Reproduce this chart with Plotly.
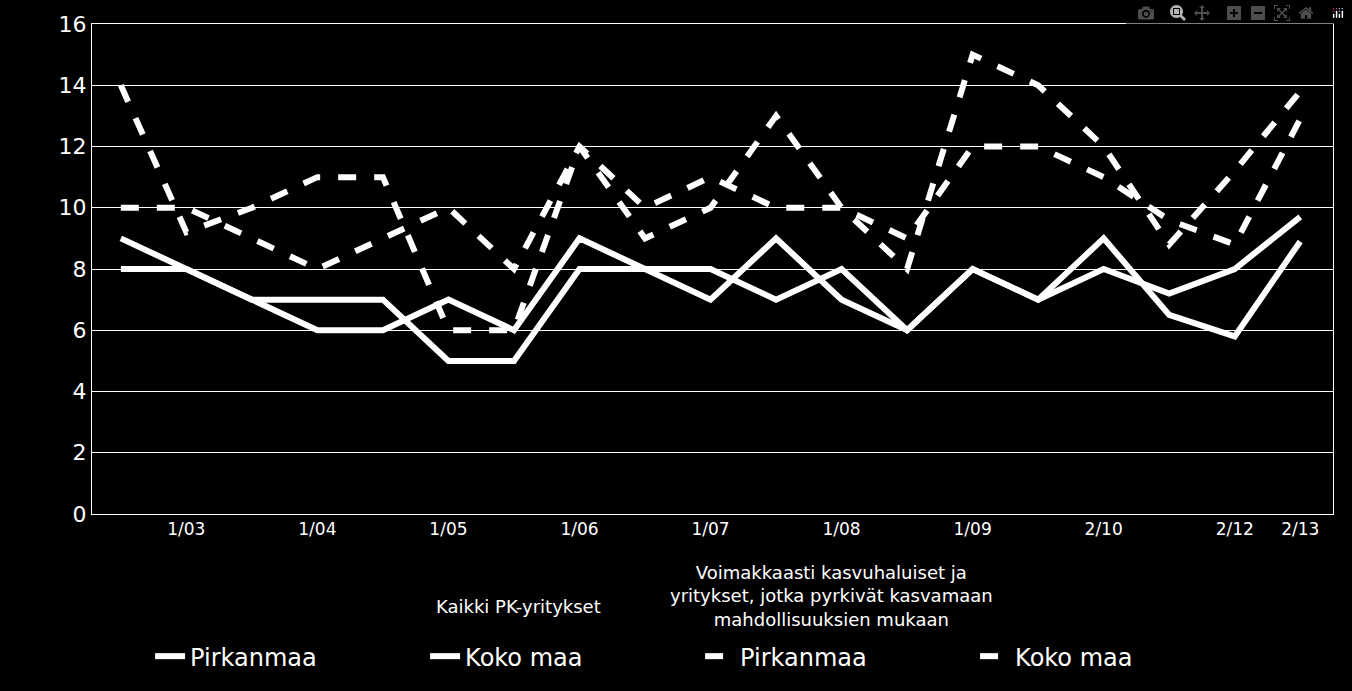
import plotly.graph_objects as go

idx = list(range(19))
pirkanmaa_all = [9, 8, 7, 6, 6, 7, 6, 9, 8, 7, 9, 7, 6, 8, 7, 9, 6.5, 5.8, 8.9]
kokomaa_all = [8, 8, 7, 7, 7, 5, 5, 8, 8, 8, 7, 8, 6, 8, 7, 8, 7.2, 8, 9.7]
pirkanmaa_growth = [14, 9.2, 10, 11, 11, 6, 6, 12, 9, 10, 13, 10, 8, 15, 14, 12, 8.8, 11.2, 13.8]
kokomaa_growth = [10, 10, 9, 8, 9, 10, 8, 12, 10, 11, 10, 10, 9, 12, 12, 11, 9.6, 8.8, 12.9]
tick_pos = [1, 3, 5, 7, 9, 11, 13, 15, 17, 18]
tick_text = ["1/03", "1/04", "1/05", "1/06", "1/07", "1/08", "1/09", "2/10", "2/12", "2/13"]

fig = go.Figure()
for name, ys, dash in [("Pirkanmaa", pirkanmaa_all, "solid"), ("Koko maa", kokomaa_all, "solid"),
                       ("Pirkanmaa", pirkanmaa_growth, "dash"), ("Koko maa", kokomaa_growth, "dash")]:
    fig.add_trace(go.Scatter(x=idx, y=ys, mode="lines", name=name,
                             line=dict(color="white", width=6, dash=dash)))

fig.update_layout(
    width=1352, height=691, paper_bgcolor="black", plot_bgcolor="black",
    margin=dict(l=92, r=19, t=24, b=165),
    font=dict(family="DejaVu Sans", color="white"),
    legend=dict(orientation="h", x=0.49, xanchor="center", y=-0.245, yanchor="top",
                font=dict(size=24), entrywidth=230, bgcolor="rgba(0,0,0,0)"),
    showlegend=True,
)
fig.update_xaxes(range=[-0.44, 18.5], tickvals=tick_pos, ticktext=tick_text, tickfont=dict(size=17),
                 showgrid=False, zeroline=False, showline=True, linecolor="white", linewidth=1, mirror=True,
                 ticks="")
fig.update_yaxes(range=[0, 16], dtick=2, tickfont=dict(size=22), gridcolor="white", gridwidth=1,
                 zeroline=False, showline=True, linecolor="white", linewidth=1, mirror=True, ticks="")
fig.add_annotation(text="Kaikki PK-yritykset", xref="paper", yref="paper", x=(434 - 92) / 1241, y=-0.188,
                   showarrow=False, font=dict(size=18), yanchor="middle")
fig.add_annotation(text="Voimakkaasti kasvuhaluiset ja<br>yritykset, jotka pyrkivät kasvamaan<br>mahdollisuuksien mukaan",
                   xref="paper", yref="paper", x=(995 - 92) / 1241, y=-0.167, showarrow=False,
                   font=dict(size=18), yanchor="middle")
fig.write_html("out.html", post_script="document.body.style.margin='0';document.body.style.background='black';")
